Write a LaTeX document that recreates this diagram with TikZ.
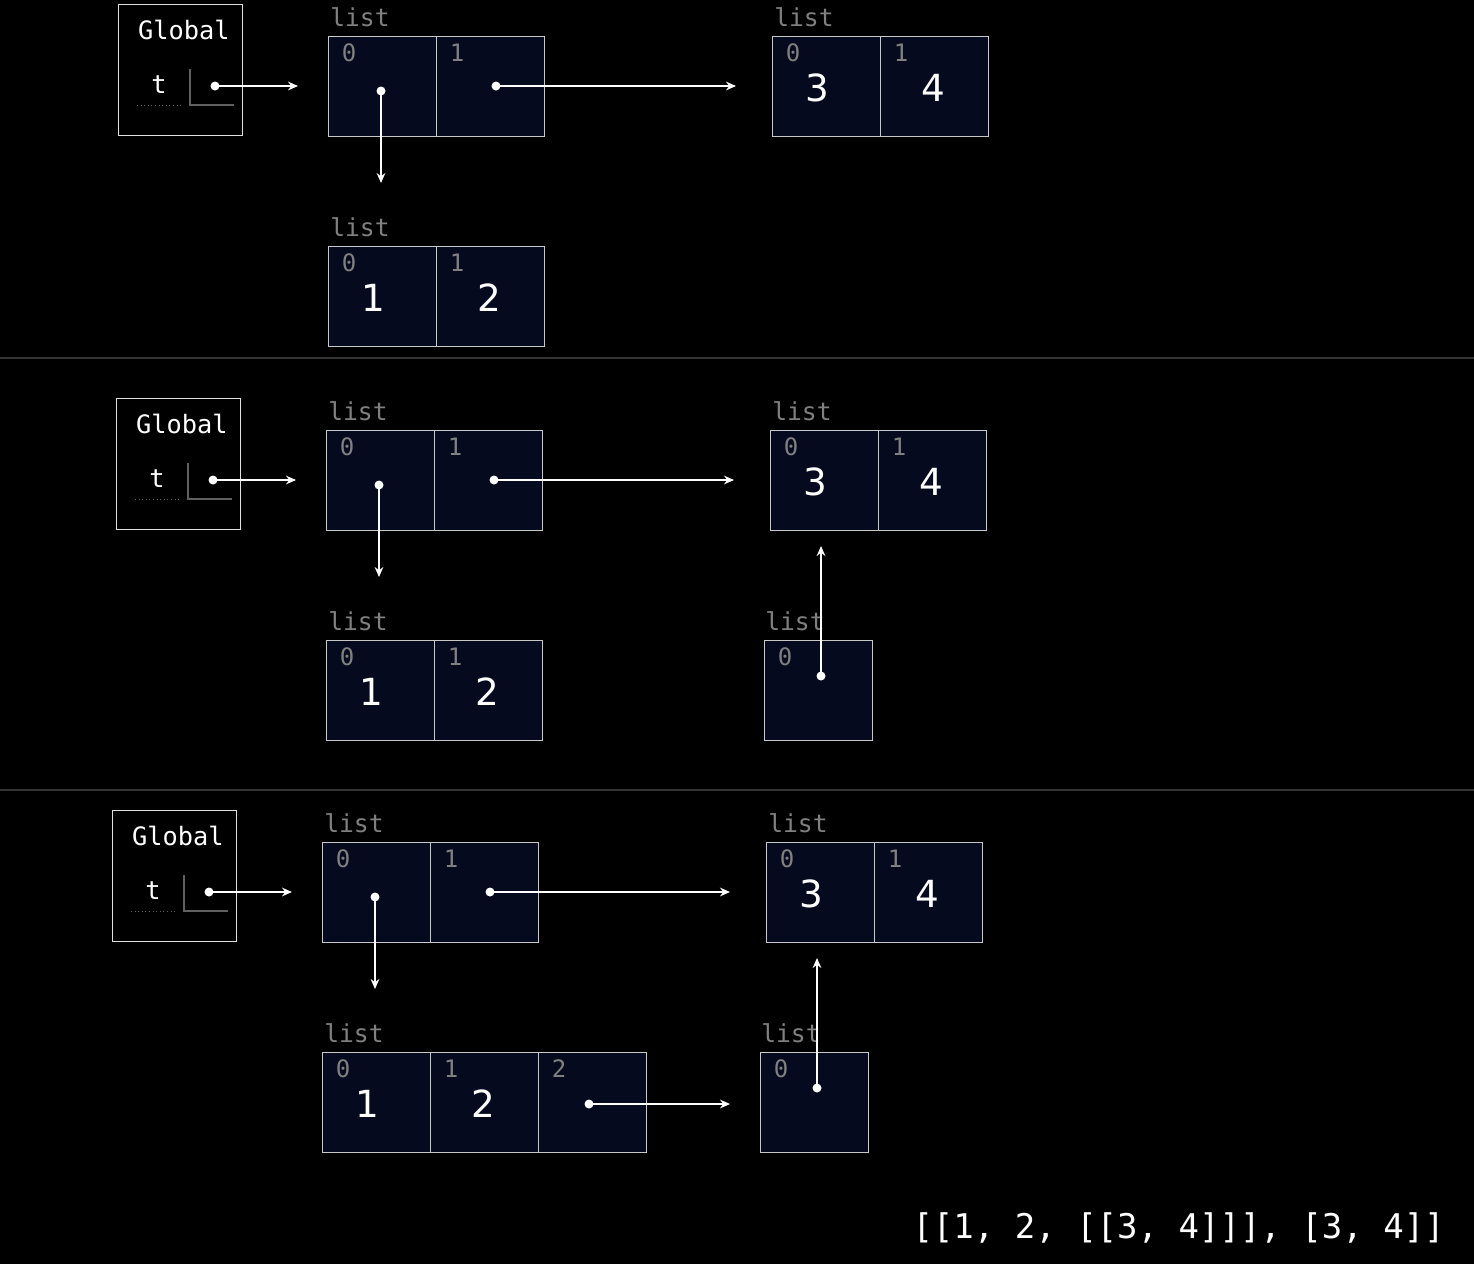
\documentclass[tikz,border=0pt]{standalone}
\usepackage{fontspec}
\setmainfont{DejaVu Sans}
\newfontfamily\monof{DejaVu Sans Mono}
\usetikzlibrary{calc,arrows.meta}
\definecolor{cellfill}{HTML}{050A1E}
\definecolor{idxgray}{HTML}{808080}
\definecolor{sepgray}{HTML}{333333}
\definecolor{lgray}{HTML}{606060}
\definecolor{cellline}{HTML}{C8C8C8}
\tikzset{
  cell/.style={draw=cellline, fill=cellfill, line width=0.75pt, minimum width=81pt, minimum height=75pt, anchor=north west, inner sep=0pt, outer sep=0pt},
  idx/.style={text=idxgray, font=\monof\fontsize{18}{18}\selectfont, inner sep=0pt},
  lbl/.style={text=idxgray, font=\monof\fontsize{18.5}{18.5}\selectfont, inner sep=0pt, anchor=west},
  val/.style={text=white, font=\fontsize{28}{28}\selectfont, inner sep=0pt},
  gtext/.style={text=white, font=\monof\fontsize{19}{19}\selectfont, inner sep=0pt},
  gframe/.style={draw=white!88!black, line width=0.75pt, minimum width=93pt, minimum height=98.25pt, anchor=north west, inner sep=0pt, outer sep=0pt},
  ptr/.style={white, line width=1.5pt, -{Stealth[length=7.5pt,width=6.5pt]}},
  pdot/.style={circle, fill=white, inner sep=0pt, minimum size=6.75pt},
  sepline/.style={sepgray, line width=1.5pt},
}
\newcommand{\lcell}[4]{%
  \node[cell] (#1) at (#2,#3) {};
  \node[idx] (#1-i) at ($(#1.north west)+(21,17)$) {#4};
}
\newcommand{\basepanel}[1]{%
  \node[gframe] (#1g) at (118,4) {};
  \node[gtext] (#1gt) at (184,30) {Global};
  \node[gtext] (#1t) at (159,85) {t};
  \coordinate (#1u1) at (137,105);
  \coordinate (#1u2) at (181,105);
  \draw[lgray, line width=0.7pt, dotted] (#1u1) -- (#1u2);
  \coordinate (#1l1) at (190,69);
  \coordinate (#1l2) at (190,105);
  \coordinate (#1l3) at (234,105);
  \draw[lgray, line width=0.8pt] (#1l1) -- (#1l2) -- (#1l3);
  % list A
  \node[lbl] (#1al) at (330,17) {list};
  \lcell{#1a0}{328}{36}{0}
  \lcell{#1a1}{436}{36}{1}
  % list B
  \node[lbl] (#1bl) at (774,17) {list};
  \lcell{#1b0}{772}{36}{0}
  \lcell{#1b1}{880}{36}{1}
  \node[val] (#1b0v) at (817,88) {3};
  \node[val] (#1b1v) at (933,88) {4};
  % list C
  \node[lbl] (#1cl) at (330,227) {list};
  \lcell{#1c0}{328}{246}{0}
  \lcell{#1c1}{436}{246}{1}
  \node[val] (#1c0v) at (373,298) {1};
  \node[val] (#1c1v) at (489,298) {2};
  % pointers
  \node[pdot] (#1gd) at (215,86) {};
  \coordinate (#1ge) at (298,86);
  \draw[ptr] (#1gd.center) -- (#1ge);
  \node[pdot] (#1a0d) at (381,91) {};
  \coordinate (#1a0e) at (381,183);
  \draw[ptr] (#1a0d.center) -- (#1a0e);
  \node[pdot] (#1a1d) at (496,86) {};
  \coordinate (#1a1e) at (736,86);
  \draw[ptr] (#1a1d.center) -- (#1a1e);
}
\newcommand{\dlist}[1]{%
  \node[lbl] (#1dl) at (767,227) {list};
  \lcell{#1d0}{766}{246}{0}
  \node[pdot] (#1d0d) at (823,282) {};
  \coordinate (#1d0e) at (823,152);
  \draw[ptr] (#1d0d.center) -- (#1d0e);
}
\begin{document}
\begin{tikzpicture}[x=0.75pt, y=-0.75pt]
  \fill[black] (0,0) rectangle (1474,1264);
  \useasboundingbox (0,0) rectangle (1474,1264);
  % separators
  \coordinate (s1a) at (0,358); \coordinate (s1b) at (1474,358);
  \coordinate (s2a) at (0,790); \coordinate (s2b) at (1474,790);
  \draw[sepline] (s1a) -- (s1b);
  \draw[sepline] (s2a) -- (s2b);
  % panel 1
  \begin{scope}
    \basepanel{p}
  \end{scope}
  % panel 2
  \begin{scope}[shift={(-2,394)}]
    \basepanel{q}
    \dlist{q}
  \end{scope}
  % panel 3
  \begin{scope}[shift={(-6,806)}]
    \basepanel{r}
    \lcell{rc2}{544}{246}{2}
    \dlist{r}
    \node[pdot] (rc2d) at (595,298) {};
    \coordinate (rc2e) at (736,298);
    \draw[ptr] (rc2d.center) -- (rc2e);
  \end{scope}
  \node[text=white, font=\monof\fontsize{25.5}{25.5}\selectfont, inner sep=0pt, anchor=east] (res) at (1445,1228) {[[1, 2, [[3, 4]]], [3, 4]]};
\end{tikzpicture}
\end{document}
